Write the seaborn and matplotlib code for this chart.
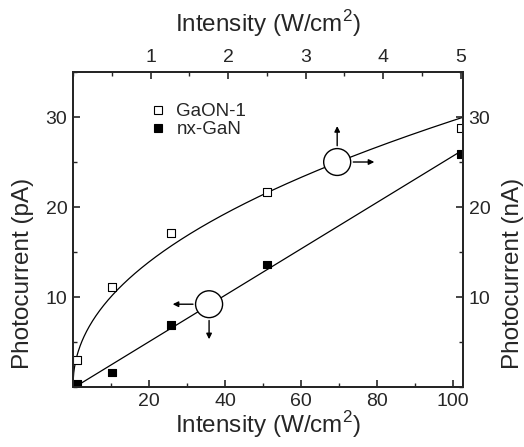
import numpy as np
import pandas as pd
import matplotlib
matplotlib.use("Agg")
import matplotlib.pyplot as plt
import seaborn as sns
from matplotlib.ticker import MultipleLocator, FixedLocator
from matplotlib.patches import Ellipse

# ---- data ----
intensity_gaon = [1.0, 10.3, 25.8, 51.0, 102.0]
current_gaon = [3.0, 11.1, 17.1, 21.7, 28.8]
intensity_nx = [1.0, 10.3, 25.8, 51.0, 102.0]
current_nx = [0.4, 1.6, 6.9, 13.6, 25.9]
series_names = ["GaON-1", "nx-GaN"]
# power-law fit drawn for GaON-1: y = a * x**b
gaon_fit_a = 3.40
gaon_fit_b = 0.47
bottom_ticks = [20, 40, 60, 80, 100]
top_ticks = [1, 2, 3, 4, 5]
left_ticks = [10, 20, 30]

sns.set_style("ticks")
plt.rcParams['font.family'] = ['Liberation Sans', 'DejaVu Sans']
plt.rcParams['mathtext.fontset'] = 'custom'
plt.rcParams['mathtext.rm'] = 'Liberation Sans'

fig = plt.figure(figsize=(5.24, 4.47), dpi=100)
ax = fig.add_axes([0.1393, 0.1342, 0.7443, 0.7047])

df = pd.DataFrame({
    "x": intensity_gaon + intensity_nx,
    "y": current_gaon + current_nx,
    "s": [series_names[0]] * len(intensity_gaon) + [series_names[1]] * len(intensity_nx),
})

xf = np.linspace(0.02, 102.6, 600)
fit_g = pd.DataFrame({"x": xf, "y": gaon_fit_a * xf ** gaon_fit_b})
m, c = np.polyfit(intensity_nx, current_nx, 1)
xl = np.linspace(1.0, 102.0, 50)
fit_n = pd.DataFrame({"x": xl, "y": m * xl + c})
sns.lineplot(data=fit_g, x="x", y="y", ax=ax, color="black", lw=0.9, legend=False)
sns.lineplot(data=fit_n, x="x", y="y", ax=ax, color="black", lw=0.9, legend=False)

sns.scatterplot(data=df, x="x", y="y", hue="s", style="s",
                palette={series_names[0]: "white", series_names[1]: "black"},
                markers={series_names[0]: "s", series_names[1]: "s"},
                edgecolor="black", linewidth=0.8, s=30, ax=ax, zorder=5)

ax.set_xlim(0, 102.6)
ax.set_ylim(0, 35)
ax.xaxis.set_major_locator(FixedLocator(bottom_ticks))
ax.xaxis.set_minor_locator(MultipleLocator(10))
ax.yaxis.set_major_locator(FixedLocator(left_ticks))
ax.yaxis.set_minor_locator(MultipleLocator(5))

TICK_FS = 14
LAB_FS = 17.5
tick_kw = dict(direction="in", labelsize=TICK_FS, width=1.2, pad=4)
ax.tick_params(axis="both", which="major", length=5, **tick_kw)
ax.tick_params(axis="both", which="minor", length=3, direction="in", width=1.0)
for sp in ax.spines.values():
    sp.set_linewidth(1.4)

ax.set_xlabel(r"Intensity (W/cm$^{\mathregular{2}}$)", fontsize=LAB_FS, labelpad=0)
ax.set_ylabel("Photocurrent (pA)", fontsize=LAB_FS)
lab = ax.yaxis.label
lab.set_rotation_mode("default")
lab.set_verticalalignment("center")
lab.set_horizontalalignment("center")
ax.yaxis.set_label_coords(-0.128, 0.36)

# top axis
axt = ax.twiny()
axt.set_xlim(0, 5.03)
axt.xaxis.set_major_locator(FixedLocator(top_ticks))
axt.xaxis.set_minor_locator(MultipleLocator(0.5))
axt.tick_params(axis="x", which="major", length=5, **tick_kw)
axt.tick_params(axis="x", which="minor", length=3, direction="in", width=1.0)
axt.set_xlabel(r"Intensity (W/cm$^{\mathregular{2}}$)", fontsize=LAB_FS, labelpad=13)

# right axis
axr = ax.twinx()
axr.set_ylim(0, 35)
axr.yaxis.set_major_locator(FixedLocator(left_ticks))
axr.yaxis.set_minor_locator(MultipleLocator(5))
axr.tick_params(axis="y", which="major", length=5, **tick_kw)
axr.tick_params(axis="y", which="minor", length=3, direction="in", width=1.0)
axr.set_ylabel("Photocurrent (nA)", fontsize=LAB_FS)
rlab = axr.yaxis.label
rlab.set_rotation_mode("default")
rlab.set_verticalalignment("center")
rlab.set_horizontalalignment("center")
axr.yaxis.set_label_coords(1.127, 0.36)
for a in (axt, axr):
    for sp in a.spines.values():
        sp.set_linewidth(1.4)

# legend
h, l = ax.get_legend_handles_labels()
leg = ax.legend(h, l, loc="upper left", bbox_to_anchor=(0.15, 0.955), frameon=False,
                fontsize=13.5, handletextpad=0.5, labelspacing=0.05, markerscale=1.0,
                handlelength=1.0)

# circles with arrows (axis indicators)
def circ(xc, yc):
    w = 27 / 3.8
    hgt = 27 / 9.05
    ax.add_patch(Ellipse((xc, yc), w, hgt, fill=True, facecolor="white",
                         edgecolor="black", lw=1.0, zorder=3))

ap = dict(arrowstyle="-|>", color="black", lw=1.0, mutation_scale=8)
circ(35.8, 9.2)
ax.annotate("", xy=(25.5, 9.2), xytext=(32.3, 9.2), arrowprops=ap)
ax.annotate("", xy=(35.8, 5.0), xytext=(35.8, 7.7), arrowprops=ap)
circ(69.5, 25.0)
ax.annotate("", xy=(69.5, 29.3), xytext=(69.5, 26.5), arrowprops=ap)
ax.annotate("", xy=(80.0, 25.0), xytext=(73.0, 25.0), arrowprops=ap)

fig.savefig("out.png", dpi=100)
